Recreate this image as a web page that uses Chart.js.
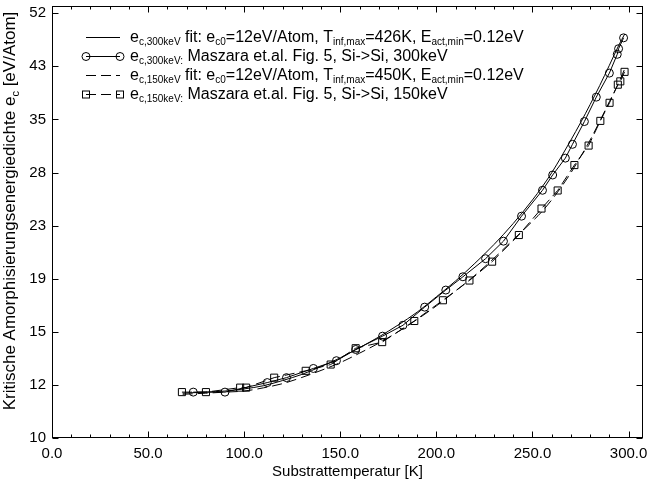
<!DOCTYPE html>
<html><head><meta charset="utf-8">
<script src="https://cdn.jsdelivr.net/npm/chart.js@4/dist/chart.umd.min.js"></script>
<style>html,body{margin:0;padding:0;background:#fff}#wrap{width:649px;height:484px}</style>
</head><body><div id="wrap"><canvas id="c" width="649" height="484"></canvas></div>
<script>
// ---- data ----
const fit300T = [68, 80, 90, 100, 110, 120, 130, 140, 150, 160, 170, 180, 190, 200, 210, 220, 230, 240, 250, 255, 260, 265, 270, 275, 280, 285, 290, 295, 298];
const fit300E = [11.9, 11.95, 12.0, 12.1, 12.25, 12.5, 12.8, 13.2, 13.65, 14.2, 14.8, 15.5, 16.3, 17.3, 18.4, 19.7, 21.2, 23.0, 25.2, 26.5, 28.0, 29.8, 31.8, 34.0, 36.5, 39.3, 42.5, 46.0, 48.0];
const m300T = [73.5, 90, 112, 122, 136, 148, 158, 172, 182.6, 193.9, 204.9, 213.8, 225.6, 234.9, 244.3, 255.2, 260.5, 267.1, 270.8, 277, 283.2, 290, 294.1, 294.8, 297.4];
const m300E = [11.95, 11.95, 12.4, 12.64, 13.1, 13.5, 14.1, 14.85, 15.49, 16.62, 17.76, 18.7, 20.06, 21.47, 23.66, 26.16, 27.76, 29.64, 31.27, 34.16, 37.56, 41.23, 44.35, 45.33, 47.28];
const fit150T = [68, 80, 90, 100, 110, 120, 130, 140, 150, 160, 170, 180, 190, 200, 210, 220, 230, 240, 250, 255, 260, 265, 270, 275, 280, 285, 290, 295, 298.5];
const fit150E = [11.85, 11.9, 11.95, 12.0, 12.15, 12.35, 12.65, 13.0, 13.4, 13.9, 14.45, 15.1, 15.85, 16.7, 17.7, 18.8, 20.1, 21.6, 23.2, 24.1, 25.2, 26.5, 28.0, 29.8, 31.8, 34.2, 36.9, 39.8, 42.3];
const m150T = [67.6, 80.1, 97.9, 101, 115.6, 132, 145, 158, 171.8, 188.5, 203.4, 217.2, 229, 242.9, 254.7, 263.1, 271.8, 279.2, 285.3, 290.1, 294.4, 295.7, 297.9];
const m150E = [11.95, 11.95, 12.16, 12.16, 12.64, 12.98, 13.3, 14.17, 14.51, 15.75, 17.07, 18.43, 19.83, 21.99, 24.37, 26.14, 28.85, 31.12, 34.25, 36.74, 39.42, 39.93, 41.43];

const xTickValues = [0, 50, 100, 150, 200, 250, 300];
const xTickLabels = ['0.0', '50.0', '100.0', '150.0', '200.0', '250.0', '300.0'];
const xMinorValues = [10,20,30,40,60,70,80,90,110,120,130,140,160,170,180,190,210,220,230,240,260,270,280,290];
const yTickValues = [10, 12.29, 15.10, 18.56, 22.81, 28.03, 34.45, 42.33, 52.0];
const yTickLabels = ['10', '12', '15', '19', '23', '28', '35', '43', '52'];

const xTitle = 'Substrattemperatur [K]';
const yTitleSegs = [['Kritische Amorphisierungsenergiedichte e', 0], ['c', 1], [' [eV/Atom]', 0]];
const legendRows = [
  [['e',0],['c,300keV',1],[' fit: e',0],['c0',1],['=12eV/Atom, T',0],['inf,max',1],['=426K, E',0],['act,min',1],['=0.12eV',0]],
  [['e',0],['c,300keV:',1],[' Maszara et.al. Fig. 5, Si->Si, 300keV',0]],
  [['e',0],['c,150keV',1],[' fit: e',0],['c0',1],['=12eV/Atom, T',0],['inf,max',1],['=450K, E',0],['act,min',1],['=0.12eV',0]],
  [['e',0],['c,150keV:',1],[' Maszara et.al. Fig. 5, Si->Si, 150keV',0]]
];

const FAM = '"Liberation Sans", Arial, Helvetica, sans-serif';
const zip = (a, b) => a.map((v, i) => ({x: v, y: b[i]}));

function drawRich(ctx, x, y, segs, main, sub, shift) {
  let cx = x;
  for (const [t, s] of segs) {
    ctx.font = (s ? sub : main) + 'px ' + FAM;
    ctx.fillText(t, cx, y + (s ? shift : 0));
    cx += ctx.measureText(t).width;
  }
  return cx;
}
function richWidth(ctx, segs, main, sub) {
  let w = 0;
  for (const [t, s] of segs) { ctx.font = (s ? sub : main) + 'px ' + FAM; w += ctx.measureText(t).width; }
  return w;
}

const framePlugin = {
  id: 'frame',
  afterDatasetsDraw(chart) {
    const {ctx, chartArea: a, scales: {x, y}} = chart;
    ctx.save();
    ctx.strokeStyle = '#000'; ctx.lineWidth = 1;
    const L = Math.round(a.left) + 0.5, R = Math.round(a.right) - 0.5, T = Math.round(a.top) + 0.5, B = Math.round(a.bottom) - 0.5;
    ctx.strokeRect(L, T, R - L, B - T);
    ctx.beginPath();
    const xt = (v, len) => { const px = Math.round(x.getPixelForValue(v)) + 0.5; ctx.moveTo(px, B); ctx.lineTo(px, B - len); ctx.moveTo(px, T); ctx.lineTo(px, T + len); };
    xTickValues.forEach(v => xt(v, 6));
    xMinorValues.forEach(v => xt(v, 3));
    yTickValues.forEach(v => { const py = Math.round(y.getPixelForValue(v)) + 0.5; ctx.moveTo(L, py); ctx.lineTo(L + 6, py); ctx.moveTo(R, py); ctx.lineTo(R - 6, py); });
    ctx.stroke();
    ctx.restore();
  },
  afterDraw(chart) {
    const ctx = chart.ctx;
    ctx.save();
    ctx.fillStyle = '#000'; ctx.strokeStyle = '#000'; ctx.lineWidth = 1;
    ctx.textBaseline = 'alphabetic'; ctx.textAlign = 'left';
    // y title
    ctx.save();
    ctx.translate(15, 211);
    ctx.rotate(-Math.PI / 2);
    const w = richWidth(ctx, yTitleSegs, 17, 11);
    drawRich(ctx, -w / 2, 0, yTitleSegs, 17, 11, 4);
    ctx.restore();
    // legend
    const rowsY = [37, 56, 75, 94];
    const x0 = 86, x1 = 120, tx = 130;
    legendRows.forEach((segs, i) => {
      const yc = rowsY[i] + 0.5;
      ctx.beginPath();
      ctx.setLineDash(i >= 2 ? [10, 5] : []);
      ctx.moveTo(x0, yc); ctx.lineTo(x1, yc); ctx.stroke();
      ctx.setLineDash([]);
      if (i === 1) { [x0, x1].forEach(px => { ctx.beginPath(); ctx.arc(px, yc, 4, 0, Math.PI * 2); ctx.stroke(); }); }
      if (i === 3) { [x0, x1].forEach(px => { ctx.strokeRect(px - 3.5, yc - 3.5, 7, 7); }); }
      drawRich(ctx, tx, rowsY[i] + 5, segs, 16, 10, 3);
    });
    ctx.restore();
  }
};

new Chart(document.getElementById('c'), {
  type: 'scatter',
  data: {
    datasets: [
      { data: zip(fit300T, fit300E), showLine: true, borderColor: '#000', borderWidth: 1, pointRadius: 0, cubicInterpolationMode: 'monotone' },
      { data: zip(m300T, m300E), showLine: true, borderColor: '#000', borderWidth: 1, pointStyle: 'circle', pointRadius: 4, pointBorderColor: '#000', pointBackgroundColor: 'rgba(0,0,0,0)', pointBorderWidth: 1 },
      { data: zip(fit150T, fit150E), showLine: true, borderColor: '#000', borderWidth: 1, borderDash: [10, 5], pointRadius: 0, cubicInterpolationMode: 'monotone' },
      { data: zip(m150T, m150E), showLine: true, borderColor: '#000', borderWidth: 1, borderDash: [10, 5], pointStyle: 'rect', pointRadius: 5, pointBorderColor: '#000', pointBackgroundColor: 'rgba(0,0,0,0)', pointBorderWidth: 1 }
    ]
  },
  options: {
    responsive: false, animation: false, devicePixelRatio: 1,
    layout: { padding: { top: 1, right: 5, left: 0, bottom: 0 } },
    plugins: { legend: { display: false }, tooltip: { enabled: false } },
    scales: {
      x: {
        type: 'linear', min: 0, max: 307.5,
        grid: { display: false, drawTicks: false }, border: { display: false },
        afterBuildTicks: s => { s.ticks = xTickValues.map(v => ({ value: v })); },
        ticks: { autoSkip: false, maxRotation: 0, padding: 7, color: '#000', font: { family: FAM, size: 15 }, callback: (v, i) => xTickLabels[i] },
        title: { display: true, text: xTitle, color: '#000', font: { family: FAM, size: 15 }, padding: { top: 0, bottom: 3 } },
        afterFit: s => { s.height = 46; s.paddingLeft = 0; s.paddingRight = 0; }
      },
      y: {
        type: 'logarithmic', min: 10, max: 53.5,
        grid: { display: false, drawTicks: false }, border: { display: false },
        afterBuildTicks: s => { s.ticks = yTickValues.map(v => ({ value: v })); },
        ticks: { autoSkip: false, padding: 6, color: '#000', font: { family: FAM, size: 15 }, callback: (v, i) => yTickLabels[i] },
        afterFit: s => { s.width = 52; s.paddingTop = 0; s.paddingBottom = 0; }
      }
    }
  },
  plugins: [framePlugin]
});
</script>
</body></html>
